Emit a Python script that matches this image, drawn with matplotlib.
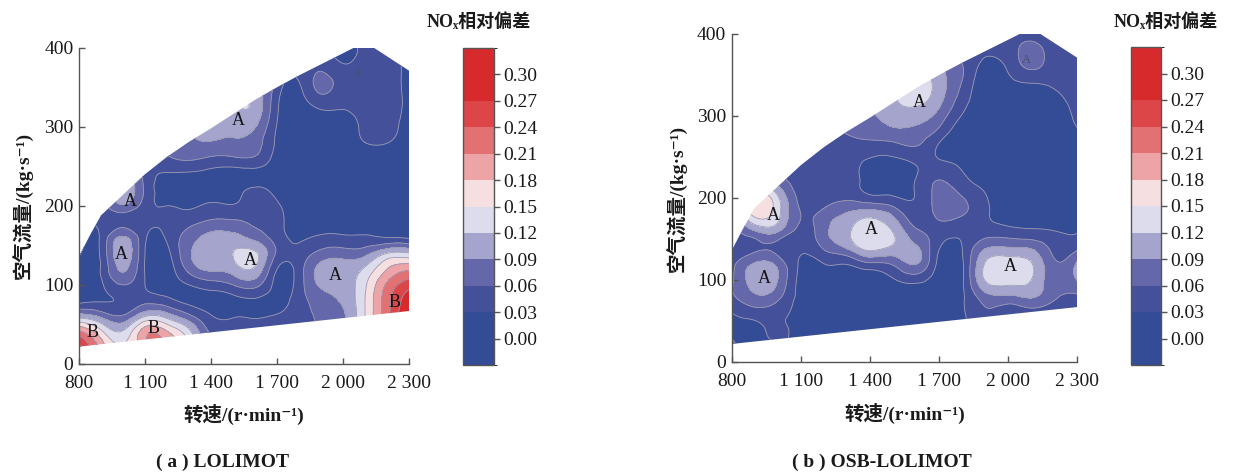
import numpy as np
import matplotlib
matplotlib.use("Agg")
import matplotlib.pyplot as plt
import matplotlib.tri as mtri
from matplotlib.colors import ListedColormap, BoundaryNorm
from matplotlib.patches import Polygon

plt.rcParams['font.family'] = ['Liberation Serif', 'DejaVu Serif', 'Noto Sans CJK SC']

# grid: engine speed (r/min) x air flow (kg/s)
speed = [800, 900, 1000, 1100, 1200, 1300, 1400, 1500,
         1600, 1700, 1800, 1900, 2000, 2100, 2200, 2300]
flow = [0, 20, 40, 60, 80, 100, 120, 140, 160, 180, 200,
        220, 240, 260, 280, 300, 320, 340, 360, 380, 400]

# operating range outline (upper edge -> right edge -> lower edge)
edge_speed = [800, 850, 900, 1000, 1100, 1200, 1300, 1400, 1500, 1600, 1700,
              1800, 1900, 2000, 2050, 2140, 2300, 2300, 800]
edge_flow = [136, 163, 188, 214, 240, 262, 281, 298, 316, 334, 350,
             365, 379, 393, 400, 400, 371, 67, 22]

# NOx relative deviation, one list per speed (flow 0 -> 400)
nox_lolimot = [
    [0.30, 0.28, 0.22, 0.11, 0.02, 0.01, 0.015, 0.035, 0.04, 0.03, 0.03, 0.03, 0.03, 0.03, 0.03, 0.03, 0.03, 0.03, 0.03, 0.03, 0.03],
    [0.22, 0.20, 0.16, 0.085, 0.028, 0.025, 0.032, 0.035, 0.035, 0.04, 0.045, 0.05, 0.05, 0.05, 0.05, 0.05, 0.05, 0.05, 0.05, 0.05, 0.05],
    [0.16, 0.15, 0.125, 0.065, 0.035, 0.06, 0.095, 0.11, 0.095, 0.05, 0.085, 0.11, 0.10, 0.06, 0.05, 0.05, 0.05, 0.05, 0.05, 0.05, 0.05],
    [0.21, 0.20, 0.20, 0.12, 0.05, 0.03, 0.028, 0.03, 0.035, 0.04, 0.045, 0.055, 0.05, 0.05, 0.05, 0.05, 0.05, 0.05, 0.05, 0.05, 0.05],
    [0.20, 0.20, 0.185, 0.11, 0.04, 0.015, 0.012, 0.02, 0.035, 0.04, 0.03, 0.015, 0.027, 0.055, 0.07, 0.07, 0.07, 0.07, 0.07, 0.07, 0.07],
    [0.14, 0.14, 0.13, 0.07, 0.022, 0.03, 0.07, 0.085, 0.075, 0.05, 0.025, 0.012, 0.025, 0.065, 0.085, 0.09, 0.09, 0.09, 0.09, 0.09, 0.09],
    [0.07, 0.07, 0.055, 0.032, 0.02, 0.045, 0.095, 0.105, 0.10, 0.065, 0.035, 0.015, 0.02, 0.055, 0.088, 0.10, 0.10, 0.10, 0.10, 0.10, 0.10],
    [0.06, 0.06, 0.045, 0.028, 0.02, 0.06, 0.105, 0.12, 0.10, 0.065, 0.032, 0.02, 0.018, 0.055, 0.085, 0.10, 0.11, 0.11, 0.11, 0.11, 0.11],
    [0.05, 0.05, 0.04, 0.028, 0.025, 0.07, 0.115, 0.125, 0.08, 0.055, 0.045, 0.035, 0.02, 0.055, 0.075, 0.092, 0.11, 0.11, 0.11, 0.11, 0.11],
    [0.045, 0.045, 0.04, 0.032, 0.02, 0.02, 0.03, 0.055, 0.045, 0.04, 0.035, 0.02, 0.012, 0.018, 0.024, 0.028, 0.034, 0.04, 0.05, 0.05, 0.05],
    [0.045, 0.045, 0.045, 0.045, 0.045, 0.045, 0.045, 0.04, 0.025, 0.015, 0.01, 0.005, 0.005, 0.005, 0.005, 0.005, 0.008, 0.02, 0.032, 0.04, 0.04],
    [0.07, 0.07, 0.065, 0.065, 0.075, 0.095, 0.10, 0.07, 0.035, 0.015, 0.005, 0.005, 0.005, 0.005, 0.005, 0.005, 0.027, 0.058, 0.068, 0.05, 0.04],
    [0.085, 0.085, 0.085, 0.085, 0.095, 0.105, 0.105, 0.075, 0.035, 0.015, 0.005, 0.005, 0.005, 0.005, 0.005, 0.005, 0.028, 0.04, 0.045, 0.03, 0.02],
    [0.155, 0.155, 0.155, 0.15, 0.15, 0.145, 0.125, 0.08, 0.035, 0.012, 0.005, 0.005, 0.005, 0.005, 0.03, 0.04, 0.045, 0.045, 0.05, 0.045, 0.04],
    [0.235, 0.235, 0.235, 0.23, 0.228, 0.215, 0.18, 0.12, 0.03, 0.012, 0.005, 0.005, 0.005, 0.005, 0.031, 0.042, 0.045, 0.045, 0.045, 0.045, 0.045],
    [0.32, 0.32, 0.32, 0.31, 0.29, 0.258, 0.205, 0.123, 0.025, 0.01, 0.008, 0.008, 0.008, 0.008, 0.01, 0.015, 0.02, 0.02, 0.02, 0.02, 0.02],
]

nox_osb = [
    [0.03, 0.035, 0.022, 0.03, 0.055, 0.055, 0.05, 0.04, 0.045, 0.045, 0.045, 0.045, 0.045, 0.045, 0.045, 0.045, 0.045, 0.045, 0.045, 0.045, 0.045],
    [0.02, 0.02, 0.022, 0.045, 0.085, 0.105, 0.093, 0.052, 0.09, 0.16, 0.165, 0.10, 0.05, 0.05, 0.05, 0.05, 0.05, 0.05, 0.05, 0.05, 0.05],
    [0.03, 0.03, 0.035, 0.04, 0.07, 0.09, 0.08, 0.05, 0.095, 0.13, 0.125, 0.08, 0.05, 0.05, 0.05, 0.05, 0.05, 0.05, 0.05, 0.05, 0.05],
    [0.02, 0.02, 0.02, 0.02, 0.02, 0.02, 0.025, 0.035, 0.05, 0.06, 0.05, 0.045, 0.045, 0.04, 0.04, 0.04, 0.04, 0.04, 0.04, 0.04, 0.04],
    [0.01, 0.01, 0.01, 0.01, 0.012, 0.018, 0.03, 0.065, 0.08, 0.07, 0.045, 0.04, 0.04, 0.04, 0.045, 0.045, 0.045, 0.045, 0.045, 0.045, 0.045],
    [0.01, 0.01, 0.01, 0.01, 0.01, 0.02, 0.032, 0.095, 0.115, 0.095, 0.055, 0.04, 0.04, 0.045, 0.062, 0.07, 0.07, 0.07, 0.07, 0.07, 0.07],
    [0.01, 0.01, 0.01, 0.01, 0.012, 0.015, 0.055, 0.133, 0.138, 0.11, 0.04, 0.02, 0.022, 0.045, 0.07, 0.085, 0.09, 0.09, 0.09, 0.09, 0.09],
    [0.01, 0.01, 0.01, 0.01, 0.012, 0.027, 0.065, 0.115, 0.118, 0.085, 0.035, 0.015, 0.02, 0.045, 0.08, 0.105, 0.115, 0.115, 0.115, 0.115, 0.115],
    [0.01, 0.01, 0.01, 0.01, 0.01, 0.04, 0.092, 0.095, 0.065, 0.045, 0.032, 0.032, 0.03, 0.055, 0.08, 0.105, 0.13, 0.14, 0.14, 0.14, 0.14],
    [0.01, 0.01, 0.01, 0.01, 0.01, 0.01, 0.02, 0.033, 0.05, 0.065, 0.07, 0.062, 0.04, 0.025, 0.05, 0.078, 0.10, 0.105, 0.10, 0.10, 0.10],
    [0.025, 0.025, 0.025, 0.025, 0.025, 0.025, 0.025, 0.03, 0.04, 0.062, 0.062, 0.04, 0.025, 0.01, 0.01, 0.028, 0.045, 0.058, 0.062, 0.05, 0.05],
    [0.04, 0.04, 0.045, 0.055, 0.078, 0.122, 0.122, 0.085, 0.045, 0.035, 0.033, 0.02, 0.01, 0.01, 0.01, 0.01, 0.01, 0.01, 0.02, 0.035, 0.035],
    [0.05, 0.05, 0.05, 0.045, 0.085, 0.134, 0.135, 0.09, 0.04, 0.015, 0.008, 0.008, 0.008, 0.008, 0.008, 0.008, 0.008, 0.02, 0.035, 0.045, 0.045],
    [0.05, 0.05, 0.05, 0.05, 0.095, 0.12, 0.122, 0.085, 0.035, 0.012, 0.008, 0.008, 0.008, 0.008, 0.008, 0.008, 0.008, 0.03, 0.065, 0.07, 0.05],
    [0.045, 0.045, 0.045, 0.045, 0.065, 0.07, 0.065, 0.05, 0.03, 0.01, 0.008, 0.008, 0.008, 0.008, 0.008, 0.008, 0.02, 0.035, 0.045, 0.045, 0.04],
    [0.04, 0.04, 0.04, 0.04, 0.055, 0.092, 0.095, 0.05, 0.028, 0.015, 0.01, 0.01, 0.01, 0.01, 0.025, 0.04, 0.045, 0.045, 0.04, 0.03, 0.03],
]

# region labels (speed, flow, text)
marks_lolimot = [(1523, 308, 'A'), (1035, 205, 'A'), (994, 139, 'A'), (1577, 131, 'A'),
                 (1963, 112, 'A'), (862, 40, 'B'), (1137, 45, 'B'), (2235, 78, 'B')]
faint_lolimot = [(2064, 368, 'A')]
marks_osb = [(1614, 317, 'A'), (981, 179, 'A'), (1405, 161, 'A'), (942, 102, 'A'), (2011, 116, 'A')]
faint_osb = [(2080, 368, 'A')]

levels = [-0.03, 0.03, 0.06, 0.09, 0.12, 0.15, 0.18, 0.21, 0.24, 0.27, 0.33]
band_colors = ['#344b95', '#44519a', '#6467a9', '#a5a4cd', '#dcdcec',
               '#f6dfe0', '#eca4a7', '#e27174', '#dc4649', '#d72a2d']
cbar_ticks = [0.00, 0.03, 0.06, 0.09, 0.12, 0.15, 0.18, 0.21, 0.24, 0.27, 0.30]
xticks = [800, 1100, 1400, 1700, 2000, 2300]
xtick_labels = ['800', '1 100', '1 400', '1 700', '2 000', '2 300']
yticks = [0, 100, 200, 300, 400]

cmap = ListedColormap(band_colors)
norm = BoundaryNorm(levels, cmap.N)

fig = plt.figure(figsize=(12.33, 4.75), dpi=100)
W, H = 1233, 475


def px_axes(left, top, right, bottom):
    return fig.add_axes([left / W, 1 - bottom / H, (right - left) / W, (bottom - top) / H])


def smooth_field(values):
    # cubic refinement on a unit-spaced copy of the grid, mapped back to data units
    gx, gy = np.meshgrid(np.array(speed) / 100.0, np.array(flow) / 20.0)
    z = np.array(values).T
    tri = mtri.Triangulation(gx.ravel(), gy.ravel())
    refiner = mtri.UniformTriRefiner(tri)
    tri_f, z_f = refiner.refine_field(z.ravel(), subdiv=3)
    tri_f = mtri.Triangulation(tri_f.x * 100.0, tri_f.y * 20.0, tri_f.triangles)
    return tri_f, np.clip(z_f, levels[0] + 1e-3, levels[-1] - 1e-3)


def draw_panel(ax, cax, values, marks, faint, title_x, ylab_x):
    tri_f, z_f = smooth_field(values)
    outline = Polygon(np.column_stack([edge_speed, edge_flow]), closed=True,
                      facecolor='none', edgecolor='none', transform=ax.transData)
    ax.add_patch(outline)
    cf = ax.tricontourf(tri_f, z_f, levels=levels, cmap=cmap, norm=norm)
    cl = ax.tricontour(tri_f, z_f, levels=levels[1:-1], colors='#9b9bb3', linewidths=0.6)
    cf.set_clip_path(outline)
    cl.set_clip_path(outline)

    for x, y, s in marks:
        ax.text(x, y, s, ha='center', va='center', fontsize=13, color='#141414')
    for x, y, s in faint:
        ax.text(x, y, s, ha='center', va='center', fontsize=9, color='#4a4d70')

    ax.set_xlim(800, 2300)
    ax.set_ylim(0, 400)
    ax.set_xticks(xticks)
    ax.set_xticklabels(xtick_labels)
    ax.set_yticks(yticks)
    ax.tick_params(direction='in', length=4, width=1, colors='#555555',
                   labelcolor='#1a1a1a', labelsize=14)
    ax.tick_params(axis='x', pad=8)
    ax.tick_params(axis='y', pad=4)
    for side in ['top', 'right']:
        ax.spines[side].set_visible(False)
    for side in ['left', 'bottom']:
        ax.spines[side].set_color('#555555')
        ax.spines[side].set_linewidth(1.0)
    ax.set_xlabel('转速/(r·min⁻¹)', fontsize=14, weight='bold', color='#1a1a1a')
    ax.set_ylabel('空气流量/(kg·s⁻¹)', fontsize=14, weight='bold', color='#1a1a1a')
    ax.xaxis.set_label_coords(0.5, -0.125)
    ax.yaxis.set_label_coords(ylab_x, 0.5)

    cb = fig.colorbar(cf, cax=cax, spacing='proportional', ticks=cbar_ticks)
    cb.ax.set_yticklabels(['%.2f' % t for t in cbar_ticks])
    cb.ax.tick_params(direction='out', length=4, width=1, colors='#555555',
                      labelcolor='#1a1a1a', labelsize=14, pad=3)
    cb.outline.set_edgecolor('#555555')
    cb.outline.set_linewidth(1.0)
    fig.text(title_x / W, 1 - 22 / H, 'NOₓ相对偏差', ha='center', va='center',
             fontsize=13, weight='bold', color='#1a1a1a')


ax_a = px_axes(79, 47.7, 409, 364)
cax_a = px_axes(463, 48, 494, 365)
draw_panel(ax_a, cax_a, nox_lolimot, marks_lolimot, faint_lolimot, 479, -0.14)

ax_b = px_axes(731.7, 34, 1077.3, 362)
cax_b = px_axes(1131, 47, 1161, 365)
draw_panel(ax_b, cax_b, nox_osb, marks_osb, faint_osb, 1166, -0.13)

fig.text(222 / W, 1 - 462 / H, '( a ) LOLIMOT', ha='center', va='center',
         fontsize=14, weight='bold', color='#1a1a1a')
fig.text(882 / W, 1 - 462 / H, '( b ) OSB-LOLIMOT', ha='center', va='center',
         fontsize=14, weight='bold', color='#1a1a1a')

fig.savefig('out.png', dpi=100, facecolor='white')
